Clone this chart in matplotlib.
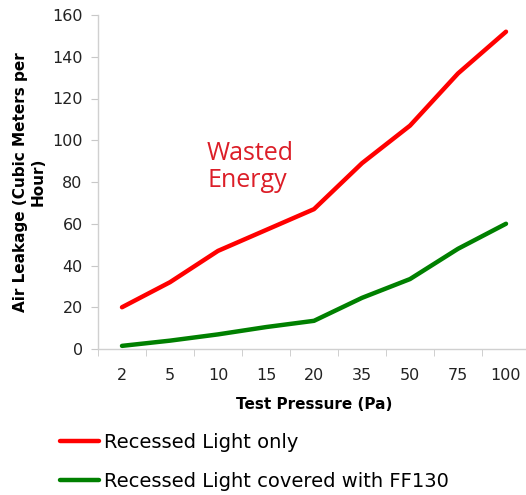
import matplotlib
matplotlib.use("Agg")
import matplotlib.pyplot as plt
from matplotlib.lines import Line2D

categories = ["2", "5", "10", "15", "20", "35", "50", "75", "100"]
recessed_only = [20, 32, 47, 57, 67, 89, 107, 132, 152]
recessed_ff130 = [1.5, 4, 7, 10.5, 13.5, 24.5, 33.5, 48, 60]
series_names = ["Recessed Light only", "Recessed Light covered with FF130"]
yticks = [0, 20, 40, 60, 80, 100, 120, 140, 160]

plt.rcParams['font.family'] = ['DejaVu Sans']
fig = plt.figure(figsize=(5.26, 4.95), dpi=100)
ax = fig.add_axes([98/526, 1-349/495, 432/526, 334/495])

x = list(range(len(categories)))
ax.plot(x, recessed_only, color='#ff0000', lw=3.2, solid_capstyle='round', solid_joinstyle='round')
ax.plot(x, recessed_ff130, color='#008000', lw=3.2, solid_capstyle='round', solid_joinstyle='round')

ax.set_xlim(-0.5, len(categories) - 0.5)
ax.set_ylim(0, 160)
ax.set_yticks(yticks)
ax.set_yticklabels([str(v) for v in yticks], fontsize=11.5, color='#222222')
ax.set_xticks(x)
ax.set_xticklabels(categories, fontsize=11.5, color='#222222')
ax.set_xticks([i - 0.5 for i in range(len(categories) + 1)], minor=True)
ax.tick_params(axis='x', which='major', length=0, pad=14)
ax.tick_params(axis='x', which='minor', length=5, color='#c8c8c8', direction='out')
ax.tick_params(axis='y', length=5, color='#c8c8c8', direction='out', pad=6)

for s in ['top', 'right']:
    ax.spines[s].set_visible(False)
for s in ['left', 'bottom']:
    ax.spines[s].set_color('#d0d0d0')
    ax.spines[s].set_linewidth(1.0)

ax.set_xlabel("Test Pressure (Pa)", fontsize=11, fontweight='bold', labelpad=10)
ax.set_ylabel("Air Leakage (Cubic Meters per\nHour)", fontsize=11, fontweight='bold', labelpad=5)

fig.text(207/526, 1-167/495, "Wasted\nEnergy", color='#dc1e28', fontsize=18,
         family='Open Sans', ha='left', va='center', linespacing=1.1)

handles = [Line2D([], [], color='#ff0000', lw=3.2, solid_capstyle='round'),
           Line2D([], [], color='#008000', lw=3.2, solid_capstyle='round')]
fig.legend(handles, series_names, loc='upper left', bbox_to_anchor=(52/526, 1-425/495),
           frameon=False, fontsize=14, handlelength=2.0, handletextpad=0.3,
           labelspacing=1.05, borderaxespad=0)

fig.savefig("out.png", dpi=100)
